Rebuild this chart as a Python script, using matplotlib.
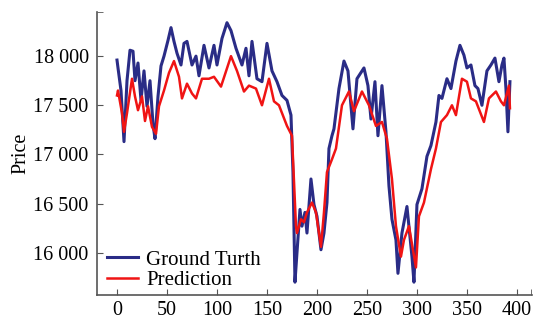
import matplotlib
matplotlib.use('Agg')
import matplotlib.pyplot as plt
from matplotlib.ticker import FuncFormatter, FixedLocator

# Ground truth price (day index, value)
TruthDays = [0, 1, 4, 7, 10, 13, 16, 18, 21, 24, 27, 30, 33, 36, 38, 41, 44, 47, 51, 54,
             57, 60, 64, 67, 70, 75, 79, 82, 87, 92, 97, 100, 105, 110, 114, 119, 125, 129, 132, 135,
             140, 145, 150, 155, 160, 165, 170, 174, 176, 178, 180, 183, 185, 188, 190, 194, 197, 200, 204, 207,
             210, 212, 215, 217, 222, 227, 231, 236, 240, 247, 251, 254, 258, 261, 265, 269, 272, 275, 279, 281,
             285, 290, 295, 297, 300, 305, 310, 314, 319, 322, 325, 330, 334, 339, 343, 347, 350, 354, 358, 361,
             365, 370, 374, 378, 382, 385, 387, 389, 391, 393]
TruthPrice = [17960, 17880, 17650, 17130, 17750, 18060, 18050, 17750, 17930, 17550, 17850, 17490, 17750, 17310, 17160, 17590, 17900, 18000, 18160, 18290,
              18150, 18030, 17910, 18130, 18150, 17910, 18000, 17800, 18110, 17880, 18110, 17910, 18180, 18340, 18260, 18080, 17910, 18080, 17800, 18150,
              17770, 17740, 18130, 17850, 17740, 17600, 17550, 17400, 16820, 15700, 16000, 16440, 16270, 16410, 16200, 16750, 16490, 16370, 16030, 16200,
              16510, 17060, 17190, 17260, 17670, 17950, 17850, 17260, 17770, 17880, 17700, 17360, 17740, 17190, 17700, 17230, 16680, 16340, 16130, 15790,
              16200, 16470, 15960, 15700, 16490, 16650, 16980, 17090, 17330, 17600, 17570, 17770, 17670, 17950, 18110, 18010, 17880, 17910, 17700, 17670,
              17500, 17850, 17910, 17980, 17740, 17910, 17980, 17670, 17230, 17740]

# Model prediction (day index, value)
PredDays = [0, 1, 5, 7, 10, 15, 18, 21, 25, 28, 31, 35, 39, 42, 47, 52, 57, 62, 65, 70,
            75, 79, 85, 92, 97, 104, 114, 120, 127, 132, 139, 145, 152, 157, 162, 170, 175, 179, 180, 184,
            187, 190, 195, 199, 204, 207, 210, 215, 219, 225, 232, 237, 245, 252, 259, 265, 270, 275, 279, 284,
            287, 292, 299, 302, 307, 314, 319, 324, 330, 335, 339, 345, 350, 354, 359, 367, 372, 379, 384, 387,
            392, 393]
PredPrice = [17600, 17650, 17420, 17230, 17420, 17770, 17590, 17450, 17590, 17340, 17490, 17280, 17210, 17490, 17650, 17830, 17950, 17790, 17570, 17720,
             17620, 17570, 17770, 17770, 17790, 17690, 18000, 17850, 17640, 17700, 17670, 17500, 17770, 17540, 17500, 17290, 17190, 16270, 16200, 16340,
             16310, 16410, 16510, 16410, 16060, 16410, 16820, 16950, 17060, 17500, 17640, 17440, 17640, 17500, 17290, 17330, 17160, 16750, 16270, 15960,
             16130, 16270, 15850, 16370, 16510, 16850, 17060, 17330, 17400, 17500, 17400, 17770, 17740, 17570, 17540, 17330, 17570, 17640, 17540, 17500,
             17700, 17470]

plt.rcParams['font.family'] = 'Liberation Serif'
plt.rcParams['font.size'] = 14.5

fig = plt.figure(figsize=(5.33, 3.22), dpi=100)
ax = fig.add_axes([0.182, 0.084, 0.816, 0.879])

ax.plot(TruthDays, TruthPrice, color='#2a2c86', linewidth=2.2, label='Ground Turth')
ax.plot(PredDays, PredPrice, color='#f01414', linewidth=1.8, label='Prediction')

ax.set_xlim(-20, 415)
ax.set_ylim(15570, 18450)
ax.set_xticks(range(0, 401, 50))
ax.set_yticks(range(16000, 18001, 500))
ax.yaxis.set_major_formatter(FuncFormatter(lambda v, p: f'{int(v):,}'.replace(',', ' ')))
# small end marks at the far ends of the spines
ax.xaxis.set_minor_locator(FixedLocator([414]))
ax.yaxis.set_minor_locator(FixedLocator([18445]))
ax.tick_params(which='both', direction='in', length=4, color='#555555')
ax.tick_params(axis='x', pad=4)
ax.tick_params(axis='y', pad=6)

for s in ['top', 'right']:
    ax.spines[s].set_visible(False)
for s in ['left', 'bottom']:
    ax.spines[s].set_color('#555555')
    ax.spines[s].set_linewidth(1.2)

ax.set_ylabel('Price', labelpad=2)
ax.legend(loc='lower left', bbox_to_anchor=(0.0, -0.02), frameon=False, handlelength=1.45,
          handletextpad=0.4, labelspacing=0.05, borderaxespad=0.1, fontsize=15)

fig.savefig('out.png', dpi=100)
